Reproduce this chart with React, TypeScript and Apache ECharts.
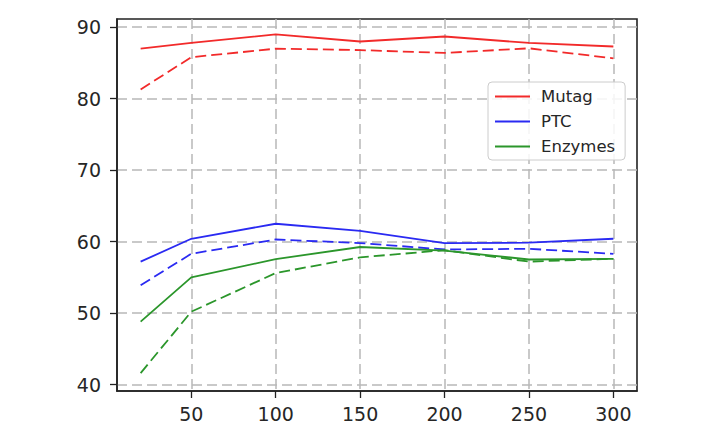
import React, { useEffect, useRef } from "react";
import * as echarts from "echarts";

const xValues = [20, 50, 100, 150, 200, 250, 300];
const mutagSolid = [87.0, 87.8, 89.0, 88.0, 88.7, 87.8, 87.3];
const mutagDashed = [81.3, 85.8, 87.0, 86.8, 86.4, 87.05, 85.65];
const ptcSolid = [57.2, 60.4, 62.5, 61.5, 59.8, 59.85, 60.4];
const ptcDashed = [53.9, 58.3, 60.3, 59.8, 58.9, 59.0, 58.3];
const enzSolid = [48.8, 55.0, 57.55, 59.25, 58.75, 57.5, 57.6];
const enzDashed = [41.6, 50.2, 55.6, 57.8, 58.8, 57.2, 57.6];
const xTicks = [50, 100, 150, 200, 250, 300];
const yTicks = [40, 50, 60, 70, 80, 90];
const legendNames = ["Mutag", "PTC", "Enzymes"];

const RED = "#f22a2a";
const BLUE = "#2a2af2";
const GREEN = "#2b962b";

const pairs = (ys: number[]) => xValues.map((x, i) => [x, ys[i]]);

export default function App() {
  const ref = useRef<HTMLDivElement>(null);
  useEffect(() => {
    document.body.style.margin = "0";
    const chart = echarts.init(ref.current!, null, { renderer: "svg" });
    const line = (name: string, ys: number[], color: string, dashed: boolean) => ({
      name,
      type: "line",
      data: pairs(ys),
      showSymbol: false,
      symbol: "none",
      lineStyle: { color, width: 1.8, type: dashed ? [11, 5] : "solid" },
      itemStyle: { color },
      z: dashed ? 2 : 3,
    });
    const axisColor = "#222";
    const labelStyle = { color: "#262626", fontSize: 19, fontFamily: "DejaVu Sans" };
    chart.setOption({
      animation: false,
      backgroundColor: "#fff",
      grid: {
        left: 117,
        top: 19,
        width: 520,
        height: 372,
        show: true,
        borderColor: axisColor,
        borderWidth: 1.6,
        backgroundColor: "transparent",
      },
      xAxis: {
        type: "value",
        min: 6,
        max: 314,
        axisLine: { show: true, onZero: false, lineStyle: { color: axisColor, width: 1.6 } },
        axisTick: { show: true, length: 7, customValues: xTicks, lineStyle: { color: axisColor, width: 1.3 } },
        axisLabel: { ...labelStyle, margin: 13, customValues: xTicks },
        splitLine: { show: true, lineStyle: { color: "#b8b8b8", width: 1.5, type: [10, 5] } },
      },
      yAxis: {
        type: "value",
        min: 39.1,
        max: 91.15,
        axisLine: { show: true, onZero: false, lineStyle: { color: axisColor, width: 1.6 } },
        axisTick: { show: true, length: 7, customValues: yTicks, lineStyle: { color: axisColor, width: 1.3 } },
        axisLabel: { ...labelStyle, margin: 16, customValues: yTicks },
        splitLine: { show: true, lineStyle: { color: "#b8b8b8", width: 1.5, type: [10, 5] } },
      },
      legend: {
        data: legendNames,
        orient: "vertical",
        left: 488,
        top: 82,
        padding: [6, 10, 5, 7],
        itemGap: 8,
        itemWidth: 35,
        itemHeight: 2,
        icon: "rect",
        borderColor: "#cccccc",
        borderWidth: 1,
        borderRadius: 4,
        backgroundColor: "rgba(255,255,255,0.85)",
        textStyle: { color: "#262626", fontSize: 16.5, fontFamily: "DejaVu Sans", padding: [0, 0, 0, 6] },
      },
      series: [
        line("Mutag", mutagSolid, RED, false),
        line("PTC", ptcSolid, BLUE, false),
        line("Enzymes", enzSolid, GREEN, false),
        line("Mutag dashed", mutagDashed, RED, true),
        line("PTC dashed", ptcDashed, BLUE, true),
        line("Enzymes dashed", enzDashed, GREEN, true),
      ],
    });
    return () => chart.dispose();
  }, []);
  return <div ref={ref} style={{ width: 720, height: 438 }} />;
}
